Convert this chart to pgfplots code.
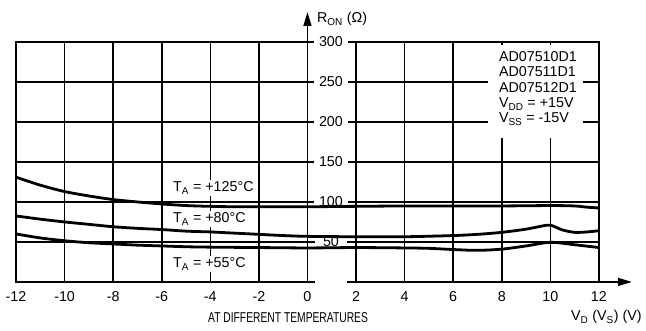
\documentclass[border=0pt]{standalone}
\usepackage{pgfplots}
\pgfplotsset{compat=1.18}
\usepackage{fontspec}
\setmainfont{Liberation Sans}
\usepackage{graphicx}
\usetikzlibrary{arrows.meta}
\newcommand{\sub}[1]{\textsubscript{#1}}
\begin{document}
\fontsize{14.3bp}{15.3bp}\selectfont
\begin{tikzpicture}
\begin{axis}[
  scale only axis, width=583bp, height=240bp,
  xmin=-12, xmax=12, ymin=0, ymax=300,
  clip=false,
  xtick={-12,-10,-8,-6,-4,-2,0,2,4,6,8,10,12},
  xticklabels={-12,-10,-8,-6,-4,-2,0,2,4,6,8,10,12},
  ytick={0,50,100,150,200,250,300},
  yticklabels={,50,100,150,200,250,300},
  grid=major, grid style={black, line width=1.6bp},
  axis line style={black, line width=1.6bp},
  major tick length=0pt,
  yticklabel style={anchor=center, xshift=315bp, fill=white, minimum width=32bp, inner ysep=1.5bp},
  xticklabel style={yshift=-5bp},
  every axis plot/.append style={black, line width=2.8bp, line join=round},
]
\addplot[smooth] coordinates {(-12,131) (-11,121) (-10,113) (-9,107.5) (-8,103) (-7,100) (-6,97.5) (-5,95.5) (-4,94.5) (-3,94) (-2,94) (-1,94) (0,94) (2,94.5) (4,95) (6,95) (8,95) (10,95.5) (11,95) (11.5,93.5) (12,92.5)};
\addplot[smooth] coordinates {(-12,82.5) (-11,78.5) (-10,75) (-9,72) (-8,69) (-7,67) (-6,65.5) (-5,63.5) (-4,62.5) (-3,61) (-2,59.5) (-1,58) (0,57) (2,56.5) (4,56.5) (6,58) (7,59.5) (8,62) (9,66) (9.6,69.5) (10,71) (10.5,65) (11,62) (11.5,62.5) (12,64)};
\addplot[smooth] coordinates {(-12,60) (-11,55) (-10,51.5) (-9,49) (-8,47.5) (-7,46) (-6,45) (-5,44) (-4,43.5) (-2,43) (0,42.5) (2,43) (4,42.5) (5,42) (6,40.5) (7,39.5) (8,41) (9,45) (10,49.5) (11,46.5) (12,43)};
% axis arrows
\draw[line width=1.6bp, -{Triangle[length=14bp,width=8bp]}] (axis cs:0,300) -- (axis cs:0,337.5);
\draw[line width=1.6bp, -{Triangle[length=14bp,width=8bp]}] (axis cs:12,0) -- (axis cs:13.36,0);
% axis titles
\node[anchor=base west, inner sep=0pt] at (axis cs:0.39,323.75) {R\sub{ON} (Ω)};
\node[anchor=base east, inner sep=0pt] at (axis cs:13.77,-48.75) {V\sub{D} (V\sub{S}) (V)};
\node[anchor=base, inner sep=0pt] at (axis cs:-0.8,-51.25) {\scalebox{0.72}[1]{AT DIFFERENT TEMPERATURES}};
% condition box
\node[anchor=north west, fill=white, minimum width=95bp, minimum height=93bp, inner sep=0pt] at (axis cs:7.43,296.25) {};
\node[anchor=base west, inner sep=0pt] at (axis cs:7.88,275) {AD07510D1};
\node[anchor=base west, inner sep=0pt] at (axis cs:7.88,256.25) {AD07511D1};
\node[anchor=base west, inner sep=0pt] at (axis cs:7.88,236.25) {AD07512D1};
\node[anchor=base west, inner sep=0pt] at (axis cs:7.88,217.5) {V\sub{DD} = +15V};
\node[anchor=base west, inner sep=0pt] at (axis cs:7.88,198.75) {V\sub{SS} = -15V};
% curve labels
\node[anchor=base west, fill=white, inner sep=2bp] at (axis cs:-5.62,112.5) {T\sub{A} = +125°C};
\node[anchor=base west, fill=white, inner sep=2bp] at (axis cs:-5.62,73.75) {T\sub{A} = +80°C};
\node[anchor=base west, fill=white, inner sep=2bp] at (axis cs:-5.62,17.5) {T\sub{A} = +55°C};
\coordinate (bbsw) at (axis cs:-12.66,-61.25);
\coordinate (bbne) at (axis cs:13.94,352.5);
\end{axis}
\pgfresetboundingbox
\useasboundingbox (bbsw) rectangle (bbne);
\end{tikzpicture}
\end{document}
